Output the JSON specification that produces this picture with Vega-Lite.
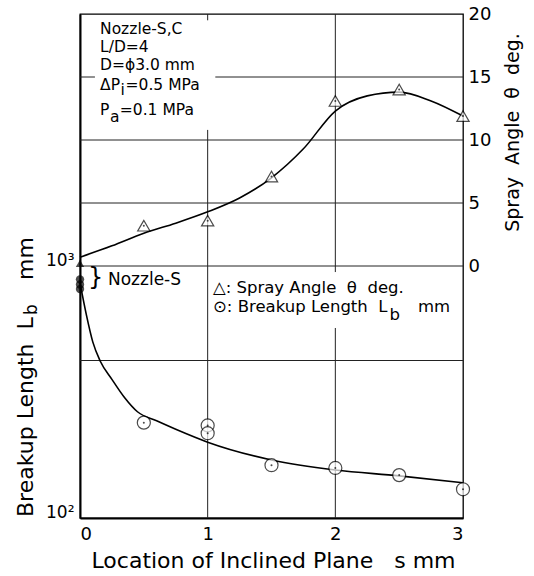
{
  "$schema": "https://vega.github.io/schema/vega-lite/v6.json",
  "width": 383,
  "height": 504,
  "autosize": {"type": "none"},
  "padding": {"left": 80, "top": 14, "right": 71, "bottom": 58},
  "background": "white",
  "datasets": {
    "grid": [
      {"s": 0, "s2": 3, "a": 10, "a2": 10},
      {"s": 0, "s2": 3, "a": 5, "a2": 5},
      {"s": 0, "s2": 3, "a": 0, "a2": 0},
      {"s": 0, "s2": 3, "a": -7.5, "a2": -7.5},
      {"s": 0, "s2": 0.117, "a": 15, "a2": 15},
      {"s": 1.06, "s2": 3, "a": 15, "a2": 15},
      {"s": 1, "s2": 1, "a": 20, "a2": 19.5},
      {"s": 1, "s2": 1, "a": 10.8, "a2": -20},
      {"s": 2, "s2": 2, "a": 20, "a2": -0.48},
      {"s": 2, "s2": 2, "a": -4.92, "a2": -20}
    ],
    "angleCurve": [
      {"s": 0, "a": 0.7}, {"s": 0.25, "a": 1.6}, {"s": 0.5, "a": 2.6}, {"s": 0.75, "a": 3.4},
      {"s": 1.0, "a": 4.3}, {"s": 1.25, "a": 5.4}, {"s": 1.5, "a": 7.0}, {"s": 1.75, "a": 9.3},
      {"s": 2.0, "a": 12.3}, {"s": 2.25, "a": 13.5}, {"s": 2.5, "a": 13.8}, {"s": 2.75, "a": 13.1},
      {"s": 3.0, "a": 11.9}
    ],
    "anglePts": [
      {"s": 0.5, "a": 3.2}, {"s": 1, "a": 3.6}, {"s": 1.5, "a": 7.1},
      {"s": 2, "a": 13.1}, {"s": 2.5, "a": 14.0}, {"s": 3, "a": 11.9}
    ],
    "nozzleAngle": [{"s": 0, "a": 0.2}],
    "lbCurve": [
      {"s": 0, "lb": 857}, {"s": 0.05, "lb": 640}, {"s": 0.1, "lb": 500}, {"s": 0.16, "lb": 418},
      {"s": 0.25, "lb": 355}, {"s": 0.35, "lb": 300}, {"s": 0.45, "lb": 264}, {"s": 0.6, "lb": 243},
      {"s": 0.75, "lb": 225}, {"s": 1.0, "lb": 200}, {"s": 1.5, "lb": 170}, {"s": 2.0, "lb": 155},
      {"s": 2.5, "lb": 147}, {"s": 3.0, "lb": 138}
    ],
    "lbPts": [
      {"s": 0.5, "lb": 239}, {"s": 1, "lb": 233}, {"s": 1, "lb": 217}, {"s": 1.5, "lb": 162},
      {"s": 2, "lb": 158}, {"s": 2.5, "lb": 148}, {"s": 3, "lb": 130}
    ],
    "nozzleLb": [{"s": 0, "lb": 885}, {"s": 0, "lb": 845}, {"s": 0, "lb": 810}],
    "notes": [
      {"s": 0.157, "a": 18.81, "t": "Nozzle-S,C"},
      {"s": 0.157, "a": 17.38, "t": "L/D=4"},
      {"s": 0.157, "a": 15.95, "t": "D=ϕ3.0 mm"},
      {"s": 0.157, "a": 14.4, "t": "ΔP"},
      {"s": 0.318, "a": 13.97, "t": "i"},
      {"s": 0.357, "a": 14.4, "t": "=0.5 MPa"},
      {"s": 0.157, "a": 12.4, "t": "P"},
      {"s": 0.235, "a": 11.82, "t": "a"},
      {"s": 0.312, "a": 12.4, "t": "=0.1 MPa"}
    ],
    "nozzleLabel": [{"s": 0.219, "a": -1.11, "t": "Nozzle-S"}],
    "legend": [
      {"s": 1.042, "a": -1.71, "t": "△:\u00a0Spray Angle\u00a0\u00a0θ\u00a0\u00a0deg."},
      {"s": 1.042, "a": -3.29, "t": "⊙:\u00a0Breakup Length\u00a0\u00a0L"},
      {"s": 2.425, "a": -3.9, "t": "b"},
      {"s": 2.647, "a": -3.29, "t": "mm"}
    ],
    "brace": [{"s": 0.063, "a": -0.95, "t": "}"}],
    "leftTitle": [
      {"s": -0.368, "a": -19.92, "t": "Breakup Length\u00a0\u00a0L"},
      {"s": -0.368, "a": -1.11, "t": "mm"}
    ],
    "leftSub": [{"s": -0.337, "a": -3.89, "t": "b"}]
  },
  "encoding": {
    "x": {
      "field": "s", "type": "quantitative", "scale": {"domain": [0, 3]},
      "title": "Location of Inclined Plane\u00a0\u00a0\u00a0s mm",
      "axis": {
        "values": [0, 1, 2, 3], "format": "d", "labelFontSize": 18, "labelPadding": 7,
        "domain": true, "domainWidth": 2, "domainColor": "black",
        "titleFontSize": 22, "titleX": 193, "titleY": 49, "titleBaseline": "alphabetic", "titleAlign": "center"
      }
    }
  },
  "layer": [
    {
      "encoding": {
        "y": {
          "field": "a", "type": "quantitative", "scale": {"domain": [-20, 20]},
          "title": "Spray\u00a0\u00a0Angle\u00a0\u00a0θ\u00a0\u00a0deg.",
          "axis": {
            "orient": "right", "values": [0, 5, 10, 15, 20], "labelFontSize": 18, "labelPadding": 5,
            "titleFontSize": 19, "titleAngle": 270, "titleX": 55, "titleY": 118,
            "titleAlign": "center", "titleBaseline": "alphabetic"
          }
        }
      },
      "layer": [
        {"data": {"name": "grid"}, "mark": {"type": "rule", "color": "#222", "strokeWidth": 1},
         "encoding": {"x2": {"field": "s2"}, "y2": {"field": "a2"}}},
        {"data": {"name": "angleCurve"}, "mark": {"type": "line", "color": "black", "strokeWidth": 1.6, "interpolate": "monotone"}, "encoding": {}},
        {"data": {"name": "anglePts"}, "mark": {"type": "point", "shape": "triangle-up", "size": 150, "filled": true, "fill": "white", "stroke": "black", "strokeWidth": 1.2}, "encoding": {}},
        {"data": {"name": "anglePts"}, "mark": {"type": "point", "shape": "circle", "size": 4, "filled": true, "color": "black"}, "encoding": {}},
        {"data": {"name": "nozzleAngle"}, "mark": {"type": "point", "shape": "triangle-up", "size": 70, "filled": true, "color": "black"}, "encoding": {}},
        {"data": {"name": "notes"}, "mark": {"type": "text", "font": "DejaVu Sans", "fontSize": 15.5, "align": "left", "baseline": "middle", "color": "black"},
         "encoding": {"text": {"field": "t"}}},
        {"data": {"name": "nozzleLabel"}, "mark": {"type": "text", "font": "DejaVu Sans", "fontSize": 17, "align": "left", "baseline": "middle", "color": "black"},
         "encoding": {"text": {"field": "t"}}},
        {"data": {"name": "legend"}, "mark": {"type": "text", "font": "DejaVu Sans", "fontSize": 16.5, "align": "left", "baseline": "middle", "color": "black"},
         "encoding": {"text": {"field": "t"}}},
        {"data": {"name": "brace"}, "mark": {"type": "text", "font": "DejaVu Sans", "fontSize": 24, "align": "left", "baseline": "middle", "color": "black"},
         "encoding": {"text": {"field": "t"}}},
        {"data": {"name": "leftTitle"}, "mark": {"type": "text", "font": "DejaVu Sans", "fontSize": 22, "angle": 270, "align": "left", "baseline": "alphabetic", "color": "black"},
         "encoding": {"text": {"field": "t"}}},
        {"data": {"name": "leftSub"}, "mark": {"type": "text", "font": "DejaVu Sans", "fontSize": 17, "angle": 270, "align": "left", "baseline": "alphabetic", "color": "black"},
         "encoding": {"text": {"field": "t"}}}
      ]
    },
    {
      "encoding": {
        "y": {
          "field": "lb", "type": "quantitative", "scale": {"type": "log", "domain": [100, 10000]},
          "title": null,
          "axis": {
            "orient": "left", "values": [100, 1000], "labelExpr": "datum.value < 500 ? '10²' : '10³'",
            "labelFontSize": 17, "labelPadding": 6, "labelOffset": -6,
            "domain": true, "domainWidth": 2, "domainColor": "black"
          }
        }
      },
      "layer": [
        {"data": {"name": "lbCurve"}, "mark": {"type": "line", "color": "black", "strokeWidth": 1.6, "interpolate": "monotone"}, "encoding": {}},
        {"data": {"name": "lbPts"}, "mark": {"type": "point", "shape": "circle", "size": 170, "filled": true, "fill": "white", "stroke": "black", "strokeWidth": 1.2}, "encoding": {}},
        {"data": {"name": "lbPts"}, "mark": {"type": "point", "shape": "circle", "size": 4, "filled": true, "color": "black"}, "encoding": {}},
        {"data": {"name": "nozzleLb"}, "mark": {"type": "point", "shape": "circle", "size": 70, "filled": true, "color": "black"}, "encoding": {}}
      ]
    }
  ],
  "resolve": {"scale": {"y": "independent"}},
  "config": {
    "font": "DejaVu Sans",
    "view": {"stroke": "black", "strokeWidth": 1.3},
    "axis": {
      "grid": false, "ticks": false, "tickSize": 0, "domain": false,
      "labelColor": "black", "titleColor": "black", "labelFont": "DejaVu Sans", "titleFont": "DejaVu Sans",
      "titleFontWeight": "normal"
    }
  }
}
